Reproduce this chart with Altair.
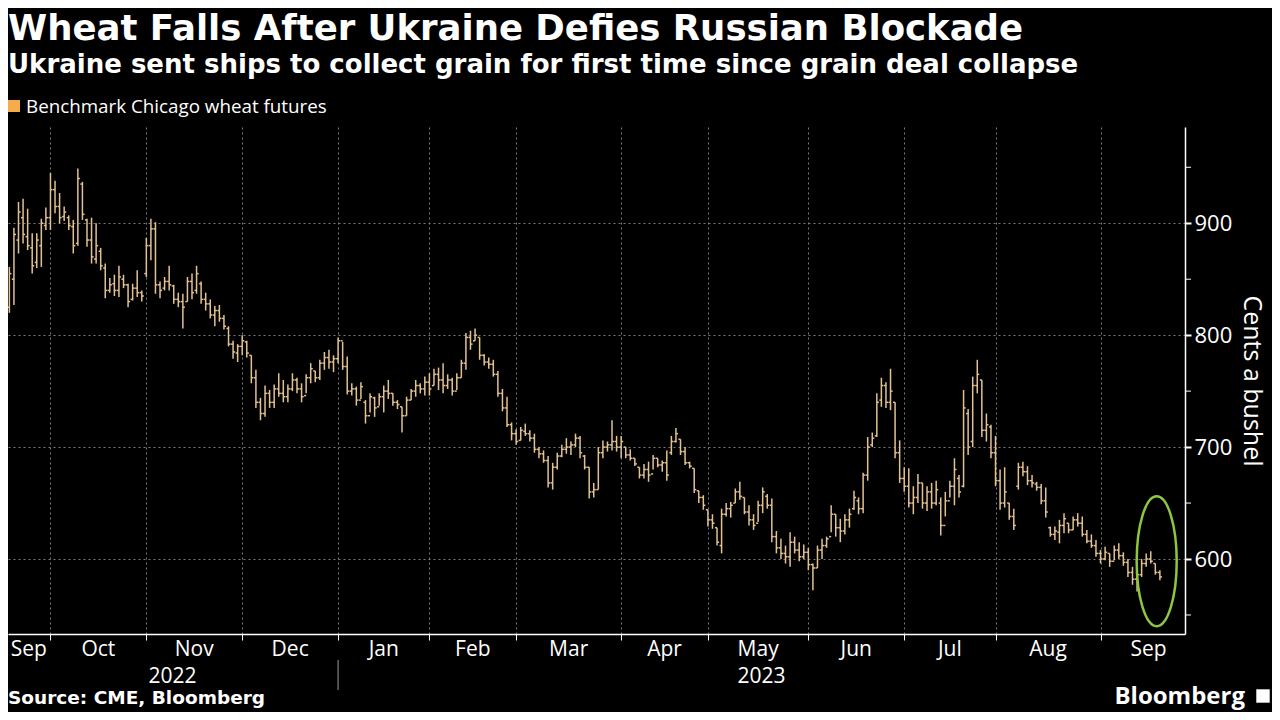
import altair as alt
import pandas as pd

# ---------------- data ----------------
HIGH = [
    861, 896, 919, 922, 913, 891, 891, 904, 914,  # Sep 2022
    945, 938, 927, 915, 907, 903, 949, 937, 904, 905, 900, 878, 864, 851, 854, 862, 854, 846, 846, 858, 840,  # Oct
    887, 904, 901, 848, 852, 862, 845, 838, 837, 852, 855, 862, 848, 838, 832, 826, 827, 818, 808, 795, 792,  # Nov
    800, 795, 782, 769, 744, 755, 751, 756, 766, 760, 756, 766, 762, 757, 765, 775, 768, 778, 785, 787, 782,  # Dec
    798, 794, 781, 757, 754, 758, 742, 748, 745, 748, 755, 760, 748, 742, 736, 745, 752, 760, 757, 763,  # Jan
    766, 770, 771, 775, 765, 762, 766, 778, 802, 804, 806, 798, 783, 780, 778, 768, 752, 745, 722,  # Feb
    716, 718, 721, 715, 712, 700, 697, 692, 686, 695, 702, 708, 705, 712, 710, 693, 682, 668, 700, 706, 705, 724, 710,  # Mar
    710, 700, 698, 690, 682, 685, 687, 693, 690, 688, 697, 710, 717, 707, 700, 687, 681, 661, 657,  # Apr
    644, 640, 628, 645, 650, 651, 663, 669, 655, 648, 640, 652, 664, 658, 654, 625, 618, 612, 624, 620, 615, 613,  # May
    610, 596, 612, 618, 620, 648, 640, 636, 640, 645, 661, 655, 677, 709, 713, 748, 762, 758, 770, 740, 706,  # Jun
    682, 681, 665, 676, 668, 665, 668, 670, 655, 660, 670, 690, 675, 751, 734, 763, 778, 760, 730, 720,  # Jul
    710, 680, 682, 650, 645, 686, 687, 683, 675, 669, 667, 664, 629, 629, 635, 641, 632, 638, 641, 638, 626, 622, 617,  # Aug
    608, 611, 605, 612, 614, 606, 600, 593, 590, 600, 605, 607, 596, 590,  # Sep 2023
]
LOW = [
    820, 827, 873, 882, 876, 855, 860, 861, 894,
    894, 909, 900, 902, 894, 873, 880, 903, 879, 864, 864, 858, 833, 838, 835, 834, 842, 825, 831, 834, 830,
    852, 867, 837, 833, 840, 840, 828, 825, 806, 830, 832, 837, 828, 822, 815, 808, 812, 805, 790, 779, 776,
    782, 780, 757, 735, 724, 727, 735, 735, 745, 740, 740, 750, 748, 740, 748, 757, 758, 760, 769, 770, 767,
    775, 769, 747, 746, 737, 743, 721, 731, 727, 737, 731, 743, 737, 734, 713, 728, 742, 745, 748, 746,
    746, 755, 751, 748, 752, 746, 751, 762, 769, 787, 795, 778, 773, 770, 763, 745, 732, 718, 706,
    702, 706, 710, 705, 695, 690, 686, 664, 662, 680, 691, 694, 693, 700, 690, 680, 654, 655, 662, 690, 696, 697, 696,
    690, 690, 688, 683, 672, 672, 669, 680, 682, 678, 670, 693, 704, 693, 684, 681, 659, 650, 644,
    629, 627, 612, 605, 638, 637, 650, 653, 640, 630, 626, 633, 641, 645, 615, 605, 600, 596, 593, 605, 598, 600,
    590, 572, 592, 600, 610, 624, 620, 615, 622, 628, 644, 640, 641, 670, 700, 709, 736, 735, 733, 690, 668,
    660, 646, 640, 650, 645, 643, 645, 648, 621, 638, 655, 648, 655, 664, 693, 700, 748, 709, 705, 690,
    665, 644, 646, 635, 626, 662, 674, 666, 664, 661, 649, 637, 620, 617, 614, 623, 623, 626, 629, 620, 614, 610, 602,
    596, 599, 593, 599, 600, 594, 584, 577, 571, 584, 593, 596, 586, 581,
]
OPEN = [
    825, 850, 885, 905, 888, 878, 865, 880, 898,
    905, 930, 915, 906, 905, 897, 882, 935, 903, 885, 868, 875, 860, 840, 846, 840, 850, 845, 832, 842, 838,
    855, 880, 895, 845, 842, 848, 844, 832, 830, 830, 848, 840, 846, 832, 828, 818, 822, 815, 806, 792, 784,
    790, 794, 782, 762, 740, 730, 748, 740, 752, 748, 745, 752, 760, 752, 746, 762, 768, 762, 775, 780, 776,
    779, 795, 772, 750, 752, 742, 740, 728, 744, 736, 745, 750, 748, 740, 736, 728, 742, 750, 755, 752,
    758, 755, 765, 760, 755, 760, 750, 762, 775, 798, 795, 798, 782, 776, 774, 765, 748, 735, 720,
    712, 706, 714, 712, 708, 698, 694, 688, 668, 682, 692, 698, 700, 702, 708, 692, 682, 660, 662, 695, 700, 702, 705,
    700, 700, 693, 690, 682, 675, 680, 676, 690, 684, 686, 695, 705, 707, 696, 686, 681, 661, 655,
    644, 635, 628, 612, 640, 645, 650, 660, 655, 642, 635, 632, 648, 656, 648, 620, 610, 605, 602, 615, 608, 602,
    606, 595, 592, 608, 612, 620, 640, 628, 625, 635, 645, 652, 645, 675, 702, 710, 742, 755, 740, 740, 695,
    672, 665, 650, 655, 668, 650, 660, 650, 650, 630, 652, 665, 672, 665, 730, 705, 755, 760, 715, 718,
    695, 670, 650, 650, 638, 665, 682, 678, 670, 667, 664, 652, 628, 622, 624, 630, 632, 626, 635, 632, 622, 616, 612,
    605, 600, 605, 598, 608, 603, 597, 588, 582, 586, 596, 600, 596, 588,
]
CLOSE = [
    855, 890, 910, 890, 880, 862, 885, 900, 905,
    930, 915, 905, 910, 898, 880, 940, 908, 885, 870, 880, 862, 840, 845, 840, 852, 845, 830, 842, 838, 835,
    880, 895, 845, 840, 848, 845, 832, 830, 825, 848, 838, 855, 832, 828, 818, 822, 815, 808, 792, 785, 790,
    795, 784, 762, 740, 730, 748, 740, 752, 748, 745, 752, 760, 752, 745, 762, 770, 762, 775, 780, 776, 779,
    795, 772, 750, 752, 742, 754, 728, 745, 735, 745, 750, 748, 740, 738, 728, 742, 750, 755, 752, 758,
    752, 765, 760, 755, 760, 750, 762, 775, 798, 792, 800, 782, 776, 774, 765, 748, 735, 720, 712,
    705, 715, 712, 708, 698, 694, 688, 668, 682, 692, 698, 700, 702, 708, 695, 682, 660, 662, 695, 700, 702, 705, 700,
    705, 693, 690, 685, 675, 680, 675, 690, 684, 686, 675, 705, 712, 696, 686, 683, 662, 655, 648,
    635, 632, 615, 640, 645, 648, 660, 656, 642, 635, 630, 648, 660, 648, 620, 610, 605, 602, 615, 608, 602, 606,
    595, 592, 608, 612, 618, 640, 628, 625, 635, 640, 655, 645, 675, 700, 708, 740, 755, 740, 750, 695, 672,
    665, 650, 655, 668, 650, 660, 650, 662, 630, 652, 665, 680, 660, 735, 700, 755, 765, 715, 720, 695,
    670, 650, 660, 638, 630, 682, 678, 670, 668, 664, 652, 642, 622, 625, 630, 636, 626, 635, 632, 622, 616, 612, 605,
    600, 606, 598, 608, 603, 597, 588, 582, 586, 596, 600, 598, 588, 584,
]

# month boundaries in trading-day index (first trading day of each month)
MONTHS = ["Sep", "Oct", "Nov", "Dec", "Jan", "Feb", "Mar", "Apr", "May", "Jun", "Jul", "Aug", "Sep"]
MONTH_BOUNDS = [-0.5, 9, 30, 51, 72, 92, 111, 134, 153, 175, 196, 216, 239, 260]
YEARS = ["2022", "2023"]
YEAR_BOUNDS = [-0.5, 72, 257.5]
Y_MAJOR = [600, 700, 800, 900]
Y_MINOR = [550, 650, 750, 850, 950]
ANNOT_IDX = [251.3]
ANNOT_PRICE = [598]

TITLE = "Wheat Falls After Ukraine Defies Russian Blockade"
SUBTITLE = "Ukraine sent ships to collect grain for first time since grain deal collapse"
LEGEND = "Benchmark Chicago wheat futures"
Y_TITLE = "Cents a bushel"
SOURCE = "Source: CME, Bloomberg"
BRAND = "Bloomberg"

# ---------------- chart ----------------
W, H = 1177, 507
BAR = "#e2c291"
GRID = "#7a7a7a"
FONT = "Open Sans"
BOLD = "DejaVu Sans"

df = pd.DataFrame({"i": list(range(len(HIGH))), "high": HIGH, "low": LOW, "open": OPEN, "close": CLOSE})

xs = alt.Scale(domain=[-0.3, 257.5], nice=False, zero=False)
ys = alt.Scale(domain=[533, 986], nice=False, zero=False)

base = alt.Chart(df)

hl = base.mark_rule(color=BAR, strokeWidth=1.5).encode(
    x=alt.X("i:Q", scale=xs, title=None, axis=alt.Axis(
        orient="bottom", values=MONTH_BOUNDS[1:-1], labels=False, title=None,
        grid=True, gridColor=GRID, gridDash=[2, 3], gridWidth=1,
        ticks=True, tickColor="white", tickSize=6, tickWidth=1,
        domain=True, domainColor="white", domainWidth=1.5)),
    y=alt.Y("low:Q", scale=ys, title=Y_TITLE, axis=alt.Axis(
        orient="right", values=Y_MAJOR, title=Y_TITLE,
        grid=True, gridColor=GRID, gridDash=[2, 3], gridWidth=1,
        ticks=True, tickColor="white", tickSize=6, tickWidth=2,
        domain=True, domainColor="white", domainWidth=1.5,
        labels=True, labelColor="white", labelFont=FONT, labelFontSize=22, labelPadding=3,
        titleColor="white", titleFont=FONT, titleFontSize=25, titleFontWeight="normal",
        titlePadding=7)),
    y2="high:Q",
)

op = base.transform_calculate(xl="datum.i - 0.45").mark_rule(color=BAR, strokeWidth=1.5).encode(
    x=alt.X("xl:Q", scale=xs), x2="i:Q",
    y=alt.Y("open:Q", scale=ys),
)
cl = base.transform_calculate(xr="datum.i + 0.45").mark_rule(color=BAR, strokeWidth=1.5).encode(
    x=alt.X("i:Q", scale=xs), x2="xr:Q",
    y=alt.Y("close:Q", scale=ys),
)

minor = alt.Chart(pd.DataFrame({"v": Y_MINOR})).mark_rule(color="white", strokeWidth=1).encode(
    x=alt.value(W), x2=alt.value(W + 6),
    y=alt.Y("v:Q", scale=ys),
)

ell_path = ("M0,-1C0.17,-1,0.308,-0.552,0.308,0C0.308,0.552,0.17,1,0,1"
            "C-0.17,1,-0.308,0.552,-0.308,0C-0.308,-0.552,-0.17,-1,0,-1Z")
ellipse = alt.Chart(pd.DataFrame({"i": ANNOT_IDX, "p": ANNOT_PRICE})).mark_point(
    shape=ell_path, size=16900, filled=False, stroke="#8dc63f", strokeWidth=2.5, opacity=1
).encode(
    x=alt.X("i:Q", scale=xs),
    y=alt.Y("p:Q", scale=ys),
)

mids = [(MONTH_BOUNDS[k] + MONTH_BOUNDS[k + 1]) / 2 for k in range(len(MONTHS))]
month_lbl = alt.Chart(pd.DataFrame({"m": MONTHS, "pos": mids})).mark_text(
    color="white", font=FONT, fontSize=21, baseline="middle", align="center"
).encode(x=alt.X("pos:Q", scale=xs), y=alt.value(H + 16), text="m:N")

ymids = [(YEAR_BOUNDS[k] + YEAR_BOUNDS[k + 1]) / 2 for k in range(len(YEARS))]
year_lbl = alt.Chart(pd.DataFrame({"y": YEARS, "pos": ymids})).mark_text(
    color="white", font=FONT, fontSize=21, baseline="middle", align="center"
).encode(x=alt.X("pos:Q", scale=xs), y=alt.value(H + 43), text="y:N")

year_sep = alt.Chart(pd.DataFrame({"pos": [YEAR_BOUNDS[1]]})).mark_rule(color="#9a9a9a", strokeWidth=1).encode(
    x=alt.X("pos:Q", scale=xs), y=alt.value(H + 26), y2=alt.value(H + 56)
)


def label(txt, x, y, size, font, weight="normal", align="left", color="white"):
    return alt.Chart(pd.DataFrame({"t": [txt]})).mark_text(
        color=color, font=font, fontSize=size, fontWeight=weight, align=align, baseline="alphabetic"
    ).encode(x=alt.value(x), y=alt.value(y), text="t:N")


title = label(TITLE, 0, -87, 35.5, BOLD, "bold")
subtitle = label(SUBTITLE, 0, -54, 26, BOLD, "bold")
legend_txt = label(LEGEND, 18, -14, 18.8, FONT)
legend_sw = alt.Chart(pd.DataFrame({"t": [LEGEND]})).mark_point(
    shape="square", filled=True, color="#f5ad4a", size=144, opacity=1
).encode(x=alt.value(6), y=alt.value(-21))
source = label(SOURCE, 0, H + 70, 18.5, BOLD, "bold")
brand = label(BRAND, 1237, H + 70, 24, FONT, "bold", align="right")
icon = alt.Chart(pd.DataFrame({"t": [BRAND]})).mark_point(
    shape="square", filled=True, color="white", size=180, opacity=1
).encode(x=alt.value(1255), y=alt.value(H + 62))

chart = alt.layer(
    hl, op, cl, minor, ellipse, month_lbl, year_lbl, year_sep,
    title, subtitle, legend_sw, legend_txt, source, brand, icon,
).properties(
    width=W, height=H, background="black",
    padding={"left": 0, "top": 119, "right": 87, "bottom": 78},
    autosize=alt.AutoSizeParams(type="none"),
).configure_view(stroke=None)

chart.save("out.html", embed_options={"renderer": "svg", "actions": False})
